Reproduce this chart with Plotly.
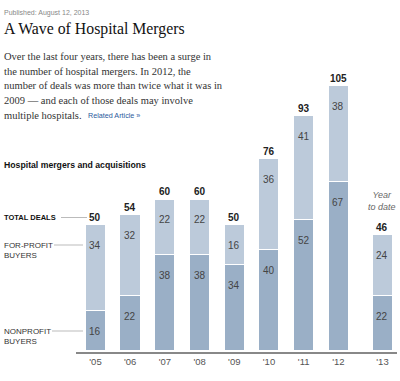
import plotly.graph_objects as go

years = ["'05", "'06", "'07", "'08", "'09", "'10", "'11", "'12", "'13"]
x_pos = [0, 1, 2, 3, 4, 5, 6, 7, 8.27]
nonprofit = [16, 22, 38, 38, 34, 40, 52, 67, 22]
forprofit = [34, 32, 22, 22, 16, 36, 41, 38, 24]
totals = [50, 54, 60, 60, 50, 76, 93, 105, 46]

W, H = 400, 381
def px(x):
    return x / W
def py(y):
    return 1 - y / H

DARK = "#9aafc6"
LIGHT = "#bccada"

fig = go.Figure()
fig.add_trace(go.Bar(x=x_pos, y=nonprofit, marker=dict(color=DARK, line=dict(color="white", width=1)),
                     width=0.58, hoverinfo="skip"))
fig.add_trace(go.Bar(x=x_pos, y=forprofit, marker=dict(color=LIGHT, line=dict(color="white", width=1)),
                     width=0.58, hoverinfo="skip"))

ann = []
for xi, n, f, t in zip(x_pos, nonprofit, forprofit, totals):
    ann.append(dict(x=xi, y=t, xref="x", yref="y", text=f"<b>{t}</b>", showarrow=False,
                    yanchor="middle", yshift=8, font=dict(family="Arial", size=10, color="#222")))
    ann.append(dict(x=xi, y=n, xref="x", yref="y", text=str(n), showarrow=False,
                    yanchor="middle", yshift=-20, font=dict(family="Arial", size=10, color="#444")))
    ann.append(dict(x=xi, y=t, xref="x", yref="y", text=str(f), showarrow=False,
                    yanchor="middle", yshift=-20, font=dict(family="Arial", size=10, color="#444")))

ann.append(dict(x=x_pos[-1], y=totals[-1], xref="x", yref="y", text="<i>Year<br>to date</i>",
                showarrow=False, yanchor="middle", yshift=34,
                font=dict(family="Arial", size=9, color="#666")))

def txt(x, y, s, size, color="#222", family="Arial", xanchor="left"):
    ann.append(dict(x=px(x), y=py(y), xref="paper", yref="paper", text=s, showarrow=False,
                    xanchor=xanchor, yanchor="middle", font=dict(family=family, size=size, color=color)))

txt(2, 13, "Published: August 12, 2013", 7, "#888")
txt(2, 29, "A Wave of Hospital Mergers", 15.8, "#111", "Liberation Serif")
para = ["Over the last four years, there has been a surge in",
        "the number of hospital mergers. In 2012, the",
        "number of deals was more than twice what it was in",
        "2009 \u2014 and each of those deals may involve",
        "multiple hospitals."]
for i, line in enumerate(para):
    txt(2, 57 + i * 14.5, line, 10.5, "#333", "Liberation Serif")
txt(86, 57 + 4 * 14.5, "Related Article \u00bb", 7.2, "#2a5a9c")
txt(2, 165, "<b>Hospital mergers and acquisitions</b>", 8.7, "#111")
txt(2, 217.5, "<b>TOTAL DEALS</b>", 7.5, "#111")
txt(2, 245, "FOR-PROFIT", 8, "#333")
txt(2, 255, "BUYERS", 8, "#333")
txt(2, 331, "NONPROFIT", 8, "#333")
txt(2, 341, "BUYERS", 8, "#333")

shapes = [
    dict(type="line", xref="paper", yref="paper", x0=px(61), x1=px(87), y0=py(217.5), y1=py(217.5),
         line=dict(color="#bbb", width=1)),
    dict(type="line", xref="paper", yref="paper", x0=px(54), x1=px(83), y0=py(245), y1=py(245),
         line=dict(color="#bbb", width=1)),
    dict(type="line", xref="paper", yref="paper", x0=px(52), x1=px(83), y0=py(331), y1=py(331),
         line=dict(color="#bbb", width=1)),
]

y_top = 110
base_px = 351.7
scale = 2.53
fig.update_layout(
    width=W, height=H, margin=dict(l=0, r=0, t=0, b=0),
    paper_bgcolor="white", plot_bgcolor="white",
    barmode="stack", bargap=0, showlegend=False,
    annotations=ann, shapes=shapes,
    xaxis=dict(domain=[px(75.7), px(396.7)], range=[-0.57, 8.68], tickvals=x_pos, ticktext=years,
               showline=True, linecolor="#888", linewidth=1.5, showgrid=False, zeroline=False,
               ticks="", tickfont=dict(family="Arial", size=9.5, color="#555"), fixedrange=True),
    yaxis=dict(domain=[py(base_px), py(base_px - y_top * scale)], range=[0, y_top],
               visible=False, showgrid=False, zeroline=False, fixedrange=True),
)
fig.write_html("out.html", config={"displayModeBar": False},
               post_script="document.body.style.margin='0';")
